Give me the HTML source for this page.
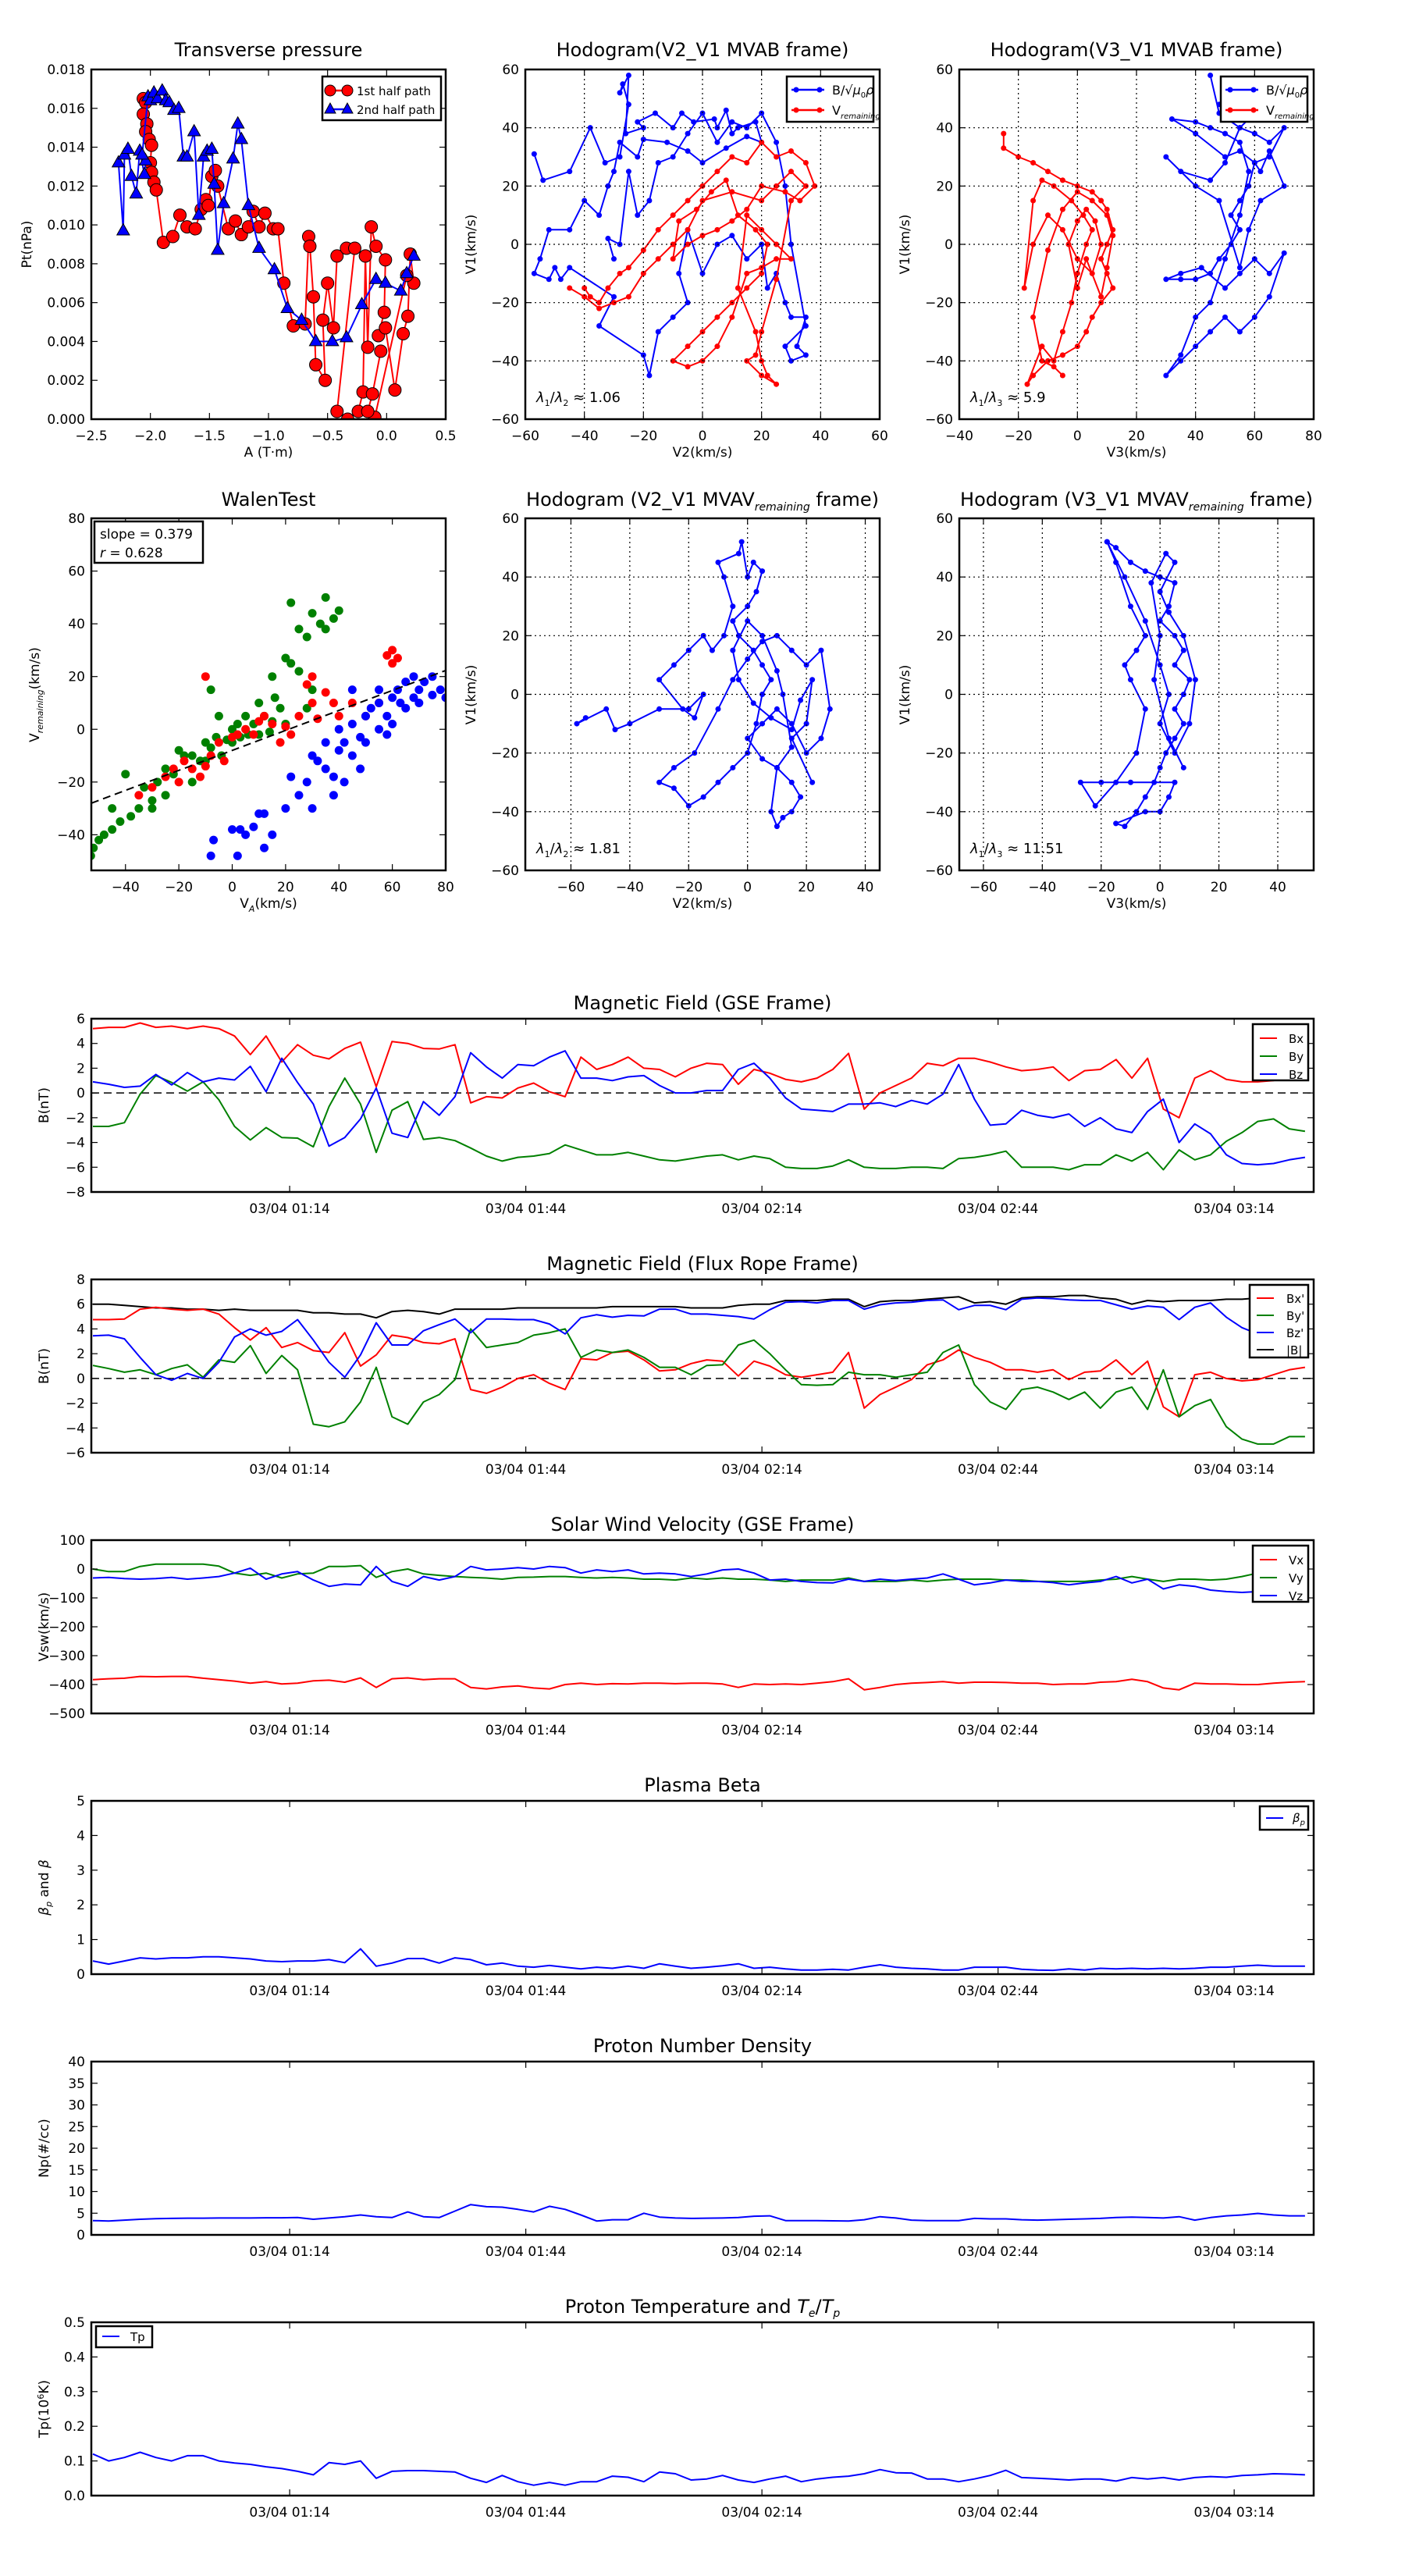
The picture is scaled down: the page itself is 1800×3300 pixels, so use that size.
<!DOCTYPE html>
<html><head><meta charset="utf-8"><title>Flux rope analysis</title>
<style>
html,body{margin:0;padding:0;background:#fff;}
svg{display:block;font-family:"DejaVu Sans","Liberation Sans",sans-serif;}
</style></head>
<body>
<svg id="fig" xmlns="http://www.w3.org/2000/svg" width="1800" height="3300" viewBox="0 0 1800 3300">
<rect x="0" y="0" width="1800" height="3300" fill="#fff"/>
</svg>
<script>
// ===================== DATA =====================
const tp1A=[-2.06,-2.04,-2.06,-2.03,-2.04,-2.01,-1.99,-2.0,-1.99,-1.97,-1.95,-1.89,-1.81,-1.75,-1.69,-1.62,-1.57,-1.53,-1.51,-1.48,-1.45,-1.43,-1.34,-1.28,-1.23,-1.17,-1.13,-1.08,-1.03,-0.96,-0.92,-0.87,-0.79,-0.69,-0.66,-0.65,-0.62,-0.60,-0.52,-0.54,-0.50,-0.45,-0.42,-0.34,-0.27,-0.42,-0.33,-0.24,-0.20,-0.18,-0.16,-0.13,-0.09,-0.01,-0.02,-0.07,-0.01,0.07,0.14,0.18,0.20,0.23,0.17,-0.10,-0.16,-0.12,-0.05];
const tp1P=[16.5,16.3,15.7,15.2,14.8,14.4,14.1,13.2,12.7,12.2,11.8,9.1,9.4,10.5,9.9,9.8,10.8,11.3,11.0,12.5,12.8,12.0,9.8,10.2,9.5,9.9,10.7,9.9,10.6,9.8,9.8,7.0,4.8,4.9,9.4,8.9,6.3,2.8,2.0,5.1,7.0,4.7,8.4,8.8,8.8,0.4,0.0,0.4,1.4,8.4,3.7,9.9,8.9,8.2,5.5,4.3,4.7,1.5,4.4,5.3,8.5,7.0,7.4,0.1,0.4,1.3,3.5];
const tp2A=[-2.27,-2.23,-2.22,-2.19,-2.16,-2.12,-2.09,-2.05,-2.04,-2.07,-2.02,-2.0,-1.97,-1.94,-1.90,-1.87,-1.84,-1.80,-1.76,-1.72,-1.69,-1.63,-1.59,-1.55,-1.52,-1.48,-1.46,-1.43,-1.38,-1.30,-1.26,-1.23,-1.17,-1.08,-0.95,-0.84,-0.72,-0.60,-0.46,-0.34,-0.21,-0.09,-0.01,0.12,0.17,0.23];
const tp2P=[13.2,9.7,13.6,13.9,12.5,11.6,13.8,12.6,13.3,13.6,16.6,16.4,16.8,16.5,16.9,16.4,16.3,15.9,16.0,13.5,13.5,14.8,10.5,13.5,13.8,13.9,12.1,8.7,11.1,13.4,15.2,14.4,11.0,8.8,7.7,5.7,5.1,4.0,4.0,4.2,5.9,7.2,7.0,6.6,7.5,8.4];

const h1BV2=[-57,-54,-45,-38,-33,-28,-25,-27,-28,-25,-26,-20,-22,-16,-10,-7,-3,4,5,8,10,12,18,20,15,8,0,-5,-12,-20,-22,-28,-30,-32,-35,-40,-45,-52,-55,-57,-52,-50,-48,-45,-30,-35,-20,-18,-15,-10,-5,-8,-5,0,5,10,15,20,22,25,28,30,35,32,35,30,28,35,30,28,25,20,15,10,5,0,-5,-10,-15,-18,-22,-25,-28,-32,-30];
const h1BV1=[31,22,25,40,28,30,48,55,52,58,38,40,42,45,40,45,42,43,40,46,38,40,42,35,37,33,28,32,35,36,30,35,25,20,10,15,5,5,-5,-10,-12,-8,-12,-8,-18,-28,-38,-45,-30,-25,-20,-10,5,-10,0,3,-5,0,-15,-10,-20,-25,-25,-35,-38,-40,-35,-28,0,20,35,45,40,42,35,45,38,30,28,15,10,25,0,2,-5];
const h1VV2=[-40,-38,-35,-32,-28,-25,-20,-15,-10,-5,0,5,10,15,20,25,30,35,38,33,28,20,15,10,5,0,-5,-10,-8,-2,3,8,12,18,22,20,15,10,5,0,-5,-10,-5,0,5,10,15,20,25,30,25,20,15,12,18,20,22,25,20,15,18,20,25,30,35,30,25,20,10,0,-5,-10,-15,-20,-25,-30,-35,-40,-45];
const h1VV1=[-15,-18,-20,-15,-10,-8,-2,5,10,15,20,25,30,28,35,30,32,28,20,15,18,20,12,8,5,3,0,-5,8,12,18,22,10,5,0,-10,-15,-20,-25,-30,-35,-40,-42,-40,-35,-25,-10,-8,-5,-5,0,5,10,-15,-30,-40,-45,-48,-45,-40,-38,-30,-12,15,20,25,20,15,18,15,5,0,-5,-10,-18,-20,-22,-18,-15];

const h2BV3=[45,48,55,60,65,70,65,60,58,55,52,55,52,48,45,40,35,30,35,42,50,55,60,65,70,65,60,55,50,45,40,35,30,35,40,45,50,55,58,55,50,45,40,32,40,50,55,60,62,65,70,62,58,55,48,40,30,35,45,50,55,60,52,48];
const h2BV1=[58,45,40,38,35,40,30,28,20,15,10,5,0,-5,-10,-12,-12,-12,-10,-8,-15,-10,-5,-10,-3,-18,-25,-30,-25,-30,-35,-40,-45,-38,-25,-20,-5,10,25,35,38,40,42,43,38,30,32,28,25,32,20,15,5,-8,15,20,30,25,22,28,40,45,50,48];
const h2VV3=[-25,-25,-20,-15,-10,-5,0,5,8,10,12,10,8,10,12,8,5,3,0,-5,-10,-15,-17,-12,-8,-5,-2,0,3,5,2,-2,-8,-12,-15,-18,-15,-10,-5,0,5,8,6,3,0,-3,0,3,8,10,12,10,5,0,-5,-10,-15,-12,-8,-5];
const h2VV1=[38,33,30,28,25,22,20,18,15,12,5,0,-5,-10,-15,-20,-25,-30,-35,-38,-40,-45,-48,-35,-40,-30,-20,-10,0,5,10,15,20,22,15,-15,0,10,5,-5,-10,0,8,12,8,0,-15,-5,-18,-8,3,10,15,18,12,-2,-25,-40,-42,-45];

const walenSlope=[0.379];
const walenIntercept=[-8];
const wGreenX=[-52,-53,-50,-48,-45,-45,-42,-40,-38,-35,-33,-30,-30,-28,-25,-25,-22,-20,-18,-15,-15,-12,-10,-10,-8,-6,-5,-4,-2,0,0,2,3,5,6,8,10,10,12,14,15,16,18,20,22,25,25,28,30,33,35,35,38,40,22,30,28,20,15,-8];
const wGreenY=[-45,-48,-42,-40,-38,-30,-35,-17,-33,-30,-22,-27,-30,-20,-25,-15,-17,-8,-10,-20,-10,-12,-5,-12,-7,-3,5,-10,-4,0,-5,2,-3,5,-2,2,10,-2,5,-1,20,12,8,27,25,38,22,35,44,40,50,38,42,45,48,15,8,2,3,15];
const wRedX=[-35,-30,-25,-22,-20,-18,-15,-12,-10,-8,-5,-3,0,2,5,8,10,12,15,18,20,22,25,28,30,32,35,38,40,45,50,55,58,60,62,60,-10,30];
const wRedY=[-25,-22,-18,-15,-20,-12,-15,-18,-14,-10,-5,-12,-3,-2,0,-2,3,5,2,-5,1,-2,5,17,10,4,14,10,5,10,5,10,28,30,27,25,20,20];
const wBlueX=[-8,-7,0,3,5,8,10,12,15,20,25,28,30,32,35,35,38,40,40,42,45,45,48,50,50,52,55,55,58,60,60,62,65,65,68,70,70,72,75,75,78,80,68,63,58,48,42,38,22,12,2,30,55,45];
const wBlueY=[-48,-42,-38,-38,-40,-37,-32,-45,-40,-30,-25,-20,-10,-12,-15,-5,-18,-8,0,-5,-10,2,-3,5,-5,8,0,10,5,12,2,15,8,18,12,15,10,18,13,20,15,12,20,10,-2,-15,-20,-25,-18,-32,-48,-30,15,15];

const h3V2=[-55,-58,-48,-45,-40,-30,-20,-15,-18,-22,-30,-25,-20,-15,-12,-8,-5,-8,-10,-3,-2,0,2,5,3,0,-5,-3,2,5,8,5,3,0,-5,-10,-15,-20,-25,-30,-25,-18,-10,-5,0,5,10,15,20,25,28,25,20,15,10,5,0,5,10,15,18,15,12,10,8,10,15,12,10,5,0,-5,-3,2,8,15,18,22,20,15,22];
const h3V1=[-8,-10,-5,-12,-10,-5,-5,0,-8,-5,5,10,15,20,15,20,30,40,45,48,52,40,45,42,35,30,25,20,15,10,5,0,-10,-20,-25,-30,-35,-38,-32,-30,-25,-20,-5,5,12,18,20,15,10,15,-5,-15,-20,-10,-5,-10,-15,-22,-25,-30,-35,-40,-42,-45,-40,-25,-18,0,8,20,25,15,5,-3,-8,-12,-2,5,-10,-15,-30];

const h4V3=[-18,-15,-10,-5,0,5,3,0,5,8,5,10,8,5,8,5,2,0,-2,-5,-8,-12,-15,-5,0,3,5,-10,-20,-27,-22,-15,-8,-5,-10,-12,-8,-5,-10,-15,-18,-12,-5,0,3,0,5,10,12,8,3,0,5,2,-3,0,-2,3,8];
const h4V1=[52,50,45,42,40,38,30,25,20,15,10,5,0,-5,-10,-15,-20,-25,-30,-35,-40,-45,-44,-40,-40,-35,-30,-30,-30,-30,-38,-30,-20,-5,5,10,15,20,30,45,52,40,25,10,0,-10,-20,-10,5,20,28,35,45,48,38,20,5,-15,-25];

const timeMin=[-25,-23,-21,-19,-17,-15,-13,-11,-9,-7,-5,-3,-1,1,3,5,7,9,11,13,15,17,19,21,23,25,27,29,31,33,35,37,39,41,43,45,47,49,51,53,55,57,59,61,63,65,67,69,71,73,75,77,79,81,83,85,87,89,91,93,95,97,99,101,103,105,107,109,111,113,115,117,119,121,123,125,127,129];
const timeTicks=[0,30,60,90,120];
const timeTickLabels=["03/04 01:14","03/04 01:44","03/04 02:14","03/04 02:44","03/04 03:14"];

const gseBx=[5.2,5.3,5.3,5.65,5.3,5.4,5.2,5.4,5.2,4.6,3.1,4.6,2.5,3.9,3.05,2.75,3.6,4.1,0.5,4.15,4.0,3.6,3.55,3.9,-0.8,-0.3,-0.4,0.4,0.8,0.1,-0.3,2.9,1.9,2.3,2.9,2.0,1.9,1.3,2.0,2.4,2.3,0.7,1.9,1.6,1.1,0.9,1.2,1.9,3.2,-1.3,0.0,0.6,1.2,2.4,2.2,2.8,2.8,2.5,2.1,1.8,1.9,2.1,1.0,1.8,1.9,2.7,1.2,2.8,-1.3,-2.0,1.2,1.8,1.1,0.9,0.9,1.0,1.5,2.1];
const gseBy=[-2.7,-2.7,-2.4,-0.1,1.4,0.85,0.15,0.9,-0.55,-2.7,-3.8,-2.8,-3.6,-3.65,-4.35,-1.1,1.2,-0.9,-4.8,-1.4,-0.7,-3.75,-3.6,-3.85,-4.45,-5.1,-5.5,-5.2,-5.1,-4.9,-4.2,-4.6,-5.0,-5.0,-4.8,-5.1,-5.4,-5.5,-5.3,-5.1,-5.0,-5.4,-5.1,-5.3,-6.0,-6.1,-6.1,-5.9,-5.4,-6.0,-6.1,-6.1,-6.0,-6.0,-6.1,-5.3,-5.2,-5.0,-4.7,-6.0,-6.0,-6.0,-6.2,-5.8,-5.8,-5.0,-5.5,-4.8,-6.2,-4.6,-5.4,-5.0,-3.9,-3.2,-2.3,-2.1,-2.9,-3.1];
const gseBz=[0.9,0.7,0.45,0.55,1.5,0.65,1.65,0.9,1.2,1.05,2.15,0.1,2.8,0.85,-0.9,-4.3,-3.6,-2.1,0.4,-3.25,-3.6,-0.7,-1.8,-0.3,3.25,2.1,1.2,2.3,2.2,2.9,3.4,1.2,1.2,1.0,1.3,1.4,0.6,0.0,0.0,0.2,0.2,1.9,2.4,1.2,-0.4,-1.3,-1.4,-1.5,-0.9,-0.9,-0.8,-1.1,-0.6,-0.9,-0.1,2.3,-0.5,-2.6,-2.5,-1.4,-1.8,-2.0,-1.7,-2.7,-2.0,-2.9,-3.2,-1.5,-0.5,-4.0,-2.5,-3.3,-5.0,-5.7,-5.8,-5.7,-5.4,-5.2];

const frBx=[4.75,4.75,4.8,5.6,5.75,5.6,5.5,5.6,5.2,4.1,3.1,4.1,2.5,2.9,2.25,2.1,3.7,1.0,1.9,3.5,3.3,2.9,2.8,3.2,-0.9,-1.2,-0.7,0.0,0.3,-0.4,-0.9,1.6,1.5,2.1,2.2,1.5,0.6,0.7,1.2,1.5,1.4,0.2,1.4,1.0,0.3,0.1,0.3,0.5,2.1,-2.4,-1.3,-0.7,-0.1,1.1,1.5,2.3,1.7,1.3,0.7,0.7,0.5,0.7,-0.1,0.5,0.6,1.5,0.3,1.4,-2.3,-3.1,0.3,0.5,0.0,-0.2,-0.1,0.3,0.7,0.9];
const frBy=[1.05,0.8,0.5,0.7,0.3,0.8,1.1,0.1,1.5,1.3,2.65,0.4,1.85,0.7,-3.7,-3.9,-3.5,-1.9,0.9,-3.1,-3.7,-1.9,-1.3,-0.1,4.0,2.5,2.7,2.9,3.5,3.7,4.0,1.7,2.3,2.1,2.3,1.7,0.9,0.9,0.3,1.05,1.1,2.7,3.1,2.0,0.7,-0.5,-0.55,-0.5,0.5,0.3,0.3,0.1,0.3,0.5,2.1,2.7,-0.5,-1.9,-2.5,-0.9,-0.7,-1.1,-1.7,-1.1,-2.4,-1.1,-0.7,-2.5,0.7,-3.1,-2.2,-1.7,-3.9,-4.9,-5.3,-5.3,-4.7,-4.7];
const frBz=[3.45,3.5,3.2,1.7,0.3,-0.15,0.4,0.0,1.3,3.35,4.0,3.5,3.8,4.75,3.1,1.3,0.1,1.9,4.5,2.7,2.7,3.85,4.35,4.8,3.7,4.8,4.8,4.75,4.75,4.4,3.6,4.9,5.15,4.95,5.1,5.05,5.6,5.6,5.2,5.2,5.1,5.0,4.8,5.55,6.15,6.2,6.1,6.3,6.3,5.6,5.95,6.1,6.15,6.3,6.35,5.55,5.9,5.9,5.55,6.4,6.5,6.45,6.35,6.3,6.3,5.95,5.6,5.85,5.75,4.75,5.75,6.1,4.95,4.1,3.6,3.85,4.35,4.55];
const frBt=[6.0,6.0,5.9,5.8,5.7,5.7,5.6,5.6,5.5,5.6,5.5,5.5,5.5,5.5,5.3,5.3,5.2,5.2,4.9,5.4,5.5,5.4,5.2,5.6,5.6,5.6,5.6,5.7,5.7,5.7,5.7,5.7,5.7,5.8,5.8,5.8,5.8,5.8,5.7,5.7,5.7,5.9,6.0,6.0,6.3,6.3,6.3,6.4,6.4,5.8,6.2,6.3,6.3,6.4,6.5,6.6,6.1,6.2,6.0,6.5,6.6,6.6,6.7,6.7,6.5,6.4,6.0,6.3,6.2,6.3,6.3,6.3,6.4,6.4,6.5,6.5,6.5,6.5];

const vswVx=[-383,-380,-378,-372,-373,-372,-372,-378,-383,-388,-395,-390,-398,-395,-387,-385,-392,-377,-410,-380,-377,-383,-380,-380,-410,-415,-408,-405,-412,-415,-400,-395,-400,-397,-398,-395,-395,-397,-395,-395,-398,-410,-398,-400,-398,-400,-395,-390,-380,-418,-410,-400,-395,-393,-390,-395,-392,-392,-393,-395,-395,-400,-398,-398,-392,-390,-382,-390,-412,-418,-395,-398,-398,-400,-400,-395,-392,-390];
const vswVy=[0,-9,-9,9,17,17,17,17,10,-14,-22,-14,-31,-17,-14,9,9,12,-29,-9,0,-17,-22,-26,-29,-31,-35,-29,-28,-26,-26,-29,-31,-29,-31,-35,-35,-38,-31,-35,-31,-35,-35,-38,-43,-38,-38,-38,-31,-43,-43,-43,-38,-43,-38,-35,-35,-35,-38,-38,-43,-43,-43,-43,-38,-35,-26,-35,-43,-35,-35,-38,-35,-26,-14,-14,-17,-31];
const vswVz=[-31,-29,-33,-35,-33,-29,-35,-31,-26,-14,3,-35,-17,-9,-38,-60,-52,-55,9,-43,-60,-26,-38,-26,9,-3,0,5,0,9,5,-14,-3,-9,-3,-17,-14,-17,-26,-17,-3,0,-14,-38,-35,-43,-47,-48,-35,-43,-35,-40,-35,-31,-17,-35,-55,-48,-38,-43,-43,-47,-55,-48,-43,-26,-48,-35,-69,-55,-60,-73,-78,-81,-78,-78,-78,-78];

const betaP=[0.38,0.29,0.38,0.47,0.44,0.47,0.47,0.5,0.5,0.47,0.44,0.38,0.36,0.38,0.38,0.42,0.33,0.73,0.23,0.32,0.45,0.45,0.32,0.47,0.42,0.27,0.32,0.23,0.2,0.25,0.2,0.15,0.2,0.17,0.23,0.17,0.3,0.23,0.17,0.2,0.24,0.3,0.17,0.2,0.15,0.12,0.12,0.14,0.12,0.2,0.27,0.2,0.17,0.15,0.12,0.12,0.2,0.2,0.2,0.14,0.12,0.11,0.15,0.12,0.17,0.15,0.17,0.15,0.17,0.15,0.17,0.2,0.2,0.23,0.26,0.23,0.23,0.23];
const densNp=[3.3,3.2,3.4,3.6,3.75,3.8,3.85,3.85,3.9,3.9,3.9,3.95,3.95,4.0,3.6,3.9,4.2,4.6,4.2,4.0,5.3,4.2,4.0,5.5,7.0,6.5,6.4,5.9,5.3,6.6,5.9,4.6,3.2,3.5,3.5,5.0,4.1,3.9,3.8,3.85,3.9,4.0,4.3,4.4,3.3,3.3,3.3,3.25,3.2,3.5,4.2,3.9,3.4,3.3,3.3,3.3,3.8,3.7,3.7,3.5,3.4,3.5,3.6,3.7,3.8,4.0,4.1,4.0,3.9,4.2,3.4,4.0,4.4,4.6,4.95,4.6,4.4,4.4];
const tempTp=[0.12,0.1,0.11,0.125,0.11,0.1,0.115,0.115,0.1,0.094,0.09,0.083,0.078,0.07,0.06,0.095,0.09,0.1,0.05,0.07,0.072,0.072,0.07,0.068,0.05,0.038,0.058,0.04,0.03,0.038,0.03,0.04,0.04,0.056,0.053,0.04,0.068,0.063,0.045,0.048,0.058,0.045,0.038,0.048,0.056,0.04,0.048,0.053,0.056,0.063,0.075,0.066,0.065,0.048,0.048,0.04,0.048,0.058,0.073,0.052,0.05,0.048,0.045,0.048,0.048,0.042,0.052,0.048,0.052,0.045,0.052,0.055,0.053,0.058,0.06,0.063,0.062,0.06];

// ===================== DRAWING =====================
const NS='http://www.w3.org/2000/svg';
const svg=document.getElementById('fig');
let clipId=0;
function mk(tag,attrs,parent){const e=document.createElementNS(NS,tag);for(const k in attrs)e.setAttribute(k,attrs[k]);(parent||svg).appendChild(e);return e;}
function fmtNum(v,d){let s=v.toFixed(d);if(s.startsWith('-')){s='\u2212'+s.slice(1);}if(/^\u2212?0(\.0+)?$/.test(s))s=s.replace('\u2212','');return s;}
function makeAx(name,x0,y0,x1,y1,xd,yd){
  const g=mk('g',{});
  
  
  const ax={g,x0,y0,x1,y1,
    x:v=>x0+(v-xd[0])/(xd[1]-xd[0])*(x1-x0),
    y:v=>y1-(v-yd[0])/(yd[1]-yd[0])*(y1-y0)};
  clipId++;
  const cp=mk('clipPath',{id:'c'+clipId},g);
  mk('rect',{x:x0,y:y0,width:x1-x0,height:y1-y0},cp);
  ax.data=mk('g',{'clip-path':'url(#c'+clipId+')'},g);
  
  
  return ax;
}
function frame(ax,xt,xl,yt,yl,grid){
  const g=ax.g;
  if(grid){
    xt.forEach(v=>{const X=ax.x(v);if(X>ax.x0+1&&X<ax.x1-1){const l=mk('line',{x1:X,x2:X,y1:ax.y0,y2:ax.y1,stroke:'#000','stroke-width':1.2,'stroke-dasharray':'2,4'},g);}});
    yt.forEach(v=>{const Y=ax.y(v);if(Y>ax.y0+1&&Y<ax.y1-1){const l=mk('line',{x1:ax.x0,x2:ax.x1,y1:Y,y2:Y,stroke:'#000','stroke-width':1.2,'stroke-dasharray':'2,4'},g);}});
  }
  const r=mk('rect',{x:ax.x0,y:ax.y0,width:ax.x1-ax.x0,height:ax.y1-ax.y0,fill:'none',stroke:'#000','stroke-width':2.5},g);
  
  
  xt.forEach((v,i)=>{const X=ax.x(v);
    mk('line',{x1:X,x2:X,y1:ax.y1,y2:ax.y1-8,stroke:'#000','stroke-width':1.2},g);
    mk('line',{x1:X,x2:X,y1:ax.y0,y2:ax.y0+8,stroke:'#000','stroke-width':1.2},g);
    const t=mk('text',{x:X,y:ax.y1+27,'text-anchor':'middle','font-size':17},g);t.textContent=xl[i];
    
    });
  yt.forEach((v,i)=>{const Y=ax.y(v);
    mk('line',{x1:ax.x0,x2:ax.x0+8,y1:Y,y2:Y,stroke:'#000','stroke-width':1.2},g);
    mk('line',{x1:ax.x1,x2:ax.x1-8,y1:Y,y2:Y,stroke:'#000','stroke-width':1.2},g);
    const t=mk('text',{x:ax.x0-8,y:Y+6,'text-anchor':'end','font-size':17},g);t.textContent=yl[i];
    
    });
}
function title(ax,html,cx,y,name){const t=mk('text',{x:cx,y:y,'text-anchor':'middle','font-size':24});t.innerHTML=html;return t;}
function label(txt,x,y,rot,name,size){const t=mk('text',{x:x,y:y,'text-anchor':'middle','font-size':size||17,transform:rot?('rotate(-90 '+x+' '+y+')'):''});t.innerHTML=txt;return t;}
function line(ax,xs,ys,color,w,name){const n=Math.min(xs.length,ys.length);let p=[];for(let i=0;i<n;i++)p.push(ax.x(xs[i]).toFixed(1)+','+ax.y(ys[i]).toFixed(1));const l=mk('polyline',{points:p.join(' '),fill:'none',stroke:color,'stroke-width':w,'stroke-linejoin':'round'},ax.data);return l;}
function dots(ax,xs,ys,color,r,name,edge){const n=Math.min(xs.length,ys.length);for(let i=0;i<n;i++){const c=mk('circle',{cx:ax.x(xs[i]),cy:ax.y(ys[i]),r:r,fill:color,stroke:edge||'none','stroke-width':1},ax.data);}}
function tris(ax,xs,ys,color,s,name){const n=Math.min(xs.length,ys.length);for(let i=0;i<n;i++){const X=ax.x(xs[i]),Y=ax.y(ys[i]);const p=mk('polygon',{points:`${X},${Y-s} ${X-s*0.9},${Y+s*0.6} ${X+s*0.9},${Y+s*0.6}`,fill:color,stroke:'#000','stroke-width':1},ax.data);}}
function range(a,b,s){const r=[];for(let v=a;v<=b+1e-9;v+=s)r.push(Math.round(v*1e6)/1e6);return r;}
function legendBox(x,y,w,h,name){const g=mk('g',{});mk('rect',{x,y,width:w,height:h,fill:'#fff',stroke:'#000','stroke-width':2.5},g);return g;}
function legLine(g,x,y,color,txt,marker){
  const big=(marker==='o'||marker==='^');
  const L=big?30:42;
  mk('line',{x1:x,x2:x+L,y1:y,y2:y,stroke:color,'stroke-width':2.5},g);
  if(marker==='o'){mk('circle',{cx:x+4,cy:y,r:7,fill:color,stroke:'#000'},g);mk('circle',{cx:x+L-4,cy:y,r:7,fill:color,stroke:'#000'},g);}
  if(marker==='^'){[x+4,x+L-4].forEach(X=>mk('polygon',{points:`${X},${y-8} ${X-7},${y+5} ${X+7},${y+5}`,fill:color,stroke:'#000'},g));}
  if(marker==='.'){mk('circle',{cx:x+6,cy:y,r:3.5,fill:color},g);mk('circle',{cx:x+36,cy:y,r:3.5,fill:color},g);}
  const t=mk('text',{x:x+L+(big?8:10),y:y+6,'font-size':big?15:16},g);t.innerHTML=txt;}

// ---------- Transverse pressure ----------
{const ax=makeAx('transverse-pressure-chart',117,89,571,537,[-2.5,0.5],[0,18]);
 line(ax,tp1A,tp1P,'#f00',2,'first-half-path-line');dots(ax,tp1A,tp1P,'#f00',8,'first-half-path-marker','#000');
 line(ax,tp2A,tp2P,'#00f',2,'second-half-path-line');tris(ax,tp2A,tp2P,'#00f',9,'second-half-path-marker');
 const xt=range(-2.5,0.5,0.5);frame(ax,xt,xt.map(v=>fmtNum(v,1)),range(0,18,2),range(0,18,2).map(v=>(v/1000).toFixed(3)),false);
 title(ax,'Transverse pressure',344,72,'transverse-pressure-title');
 label('A (T·m)',344,585,false,'x-axis-title');label('Pt(nPa)',40,313,true,'y-axis-title');
 const g=legendBox(413,98,152,56,'legend');legLine(g,419,116,'#f00','1st half path','o');legLine(g,419,140,'#00f','2nd half path','^');}

const sqrtMu='B/√<tspan font-style="italic">μ</tspan><tspan font-size="10" dy="4">0</tspan><tspan dy="-4" font-style="italic">ρ</tspan>';
const vrem='V<tspan font-size="10" dy="5" font-style="italic">remaining</tspan>';
function lam(ax,a,b,val){const t=mk('text',{x:ax.x0+14,y:ax.y1-22,'font-size':18},ax.g);t.innerHTML='<tspan font-style="italic">λ</tspan><tspan font-size="11" dy="5">'+a+'</tspan><tspan dy="-5">/</tspan><tspan font-style="italic">λ</tspan><tspan font-size="11" dy="5">'+b+'</tspan><tspan dy="-5"> ≈ '+val+'</tspan>';}

// ---------- Hodogram V2_V1 MVAB ----------
{const ax=makeAx('hodogram-v2-v1-mvab',673,89,1127,537,[-60,60],[-60,60]);
 line(ax,h1BV2,h1BV1,'#00f',2,'b-alfven-line');dots(ax,h1BV2,h1BV1,'#00f',3.5,'b-alfven-point');
 line(ax,h1VV2,h1VV1,'#f00',2,'v-remaining-line');dots(ax,h1VV2,h1VV1,'#f00',3.5,'v-remaining-point');
 const t=range(-60,60,20);frame(ax,t,t.map(v=>fmtNum(v,0)),t,t.map(v=>fmtNum(v,0)),true);
 title(ax,'Hodogram(V2_V1 MVAB frame)',900,72,'hodogram-mvab-v2-title');
 label('V2(km/s)',900,585,false,'x-axis-title');label('V1(km/s)',609,313,true,'y-axis-title');
 lam(ax,1,2,'1.06');
 const g=legendBox(1008,98,111,58,'legend');legLine(g,1014,115,'#00f',sqrtMu,'.');legLine(g,1014,141,'#f00',vrem,'.');}

// ---------- Hodogram V3_V1 MVAB ----------
{const ax=makeAx('hodogram-v3-v1-mvab',1229,89,1683,537,[-40,80],[-60,60]);
 line(ax,h2BV3,h2BV1,'#00f',2,'b-alfven-line');dots(ax,h2BV3,h2BV1,'#00f',3.5,'b-alfven-point');
 line(ax,h2VV3,h2VV1,'#f00',2,'v-remaining-line');dots(ax,h2VV3,h2VV1,'#f00',3.5,'v-remaining-point');
 frame(ax,range(-40,80,20),range(-40,80,20).map(v=>fmtNum(v,0)),range(-60,60,20),range(-60,60,20).map(v=>fmtNum(v,0)),true);
 title(ax,'Hodogram(V3_V1 MVAB frame)',1456,72,'hodogram-mvab-v3-title');
 label('V3(km/s)',1456,585,false,'x-axis-title');label('V1(km/s)',1165,313,true,'y-axis-title');
 lam(ax,1,3,'5.9');
 const g=legendBox(1564,98,111,58,'legend');legLine(g,1570,115,'#00f',sqrtMu,'.');legLine(g,1570,141,'#f00',vrem,'.');}

// ---------- Walen test ----------
{const ax=makeAx('walen-test-chart',117,664,571,1115,[-52.8,80],[-53.5,80]);
 dots(ax,wGreenX,wGreenY,'#008000',5.5,'walen-point-green');
 dots(ax,wRedX,wRedY,'#f00',5.5,'walen-point-red');
 dots(ax,wBlueX,wBlueY,'#00f',5.5,'walen-point-blue');
 const fx=[-52.8,80];const fy=fx.map(v=>walenSlope[0]*v+walenIntercept[0]);
 const l=line(ax,fx,fy,'#000',2,'fit-line');l.setAttribute('stroke-dasharray','10,6');
 const xt=range(-40,80,20),yt=range(-40,80,20);frame(ax,xt,xt.map(v=>fmtNum(v,0)),yt,yt.map(v=>fmtNum(v,0)),false);
 title(ax,'WalenTest',344,648,'walen-test-title');
 label('V<tspan font-size="11" dy="5" font-style="italic">A</tspan><tspan dy="-5">(km/s)</tspan>',344,1163,false,'x-axis-title');
 label('V<tspan font-size="11" dy="5" font-style="italic">remaining</tspan><tspan dy="-5">(km/s)</tspan>',50,890,true,'y-axis-title');
 const g=legendBox(121,668,139,53,'fit-statistics-box');
 const t1=mk('text',{x:128,y:690,'font-size':17},g);t1.textContent='slope = 0.379';
 const t2=mk('text',{x:128,y:714,'font-size':17},g);t2.innerHTML='<tspan font-style="italic">r</tspan> = 0.628';}

// ---------- Hodogram V2_V1 MVAV ----------
{const ax=makeAx('hodogram-v2-v1-mvav',673,664,1127,1115,[-75.5,44.9],[-60,60]);
 line(ax,h3V2,h3V1,'#00f',2,'hodogram-line');dots(ax,h3V2,h3V1,'#00f',3.5,'hodogram-point');
 frame(ax,range(-60,40,20),range(-60,40,20).map(v=>fmtNum(v,0)),range(-60,60,20),range(-60,60,20).map(v=>fmtNum(v,0)),true);
 title(ax,'Hodogram (V2_V1 MVAV<tspan font-size="14" dy="6" font-style="italic">remaining</tspan><tspan dy="-6"> frame)</tspan>',900,648,'hodogram-mvav-v2-title');
 label('V2(km/s)',900,1163,false,'x-axis-title');label('V1(km/s)',609,890,true,'y-axis-title');
 lam(ax,1,2,'1.81');}

// ---------- Hodogram V3_V1 MVAV ----------
{const ax=makeAx('hodogram-v3-v1-mvav',1229,664,1683,1115,[-68.2,52.2],[-60,60]);
 line(ax,h4V3,h4V1,'#00f',2,'hodogram-line');dots(ax,h4V3,h4V1,'#00f',3.5,'hodogram-point');
 frame(ax,range(-60,40,20),range(-60,40,20).map(v=>fmtNum(v,0)),range(-60,60,20),range(-60,60,20).map(v=>fmtNum(v,0)),true);
 title(ax,'Hodogram (V3_V1 MVAV<tspan font-size="14" dy="6" font-style="italic">remaining</tspan><tspan dy="-6"> frame)</tspan>',1456,648,'hodogram-mvav-v3-title');
 label('V3(km/s)',1456,1163,false,'x-axis-title');label('V1(km/s)',1165,890,true,'y-axis-title');
 lam(ax,1,3,'11.51');}

// ---------- Time series panels ----------
const T0=-25.2,T1=130.1;
function tpanel(name,top,yd,yt,yd2,ttl,ylab){
  const ax=makeAx(name,117,top,1683,top+222,[T0,T1],yd);
  ax.finish=()=>{frame(ax,timeTicks,timeTickLabels,yt,yt.map(v=>fmtNum(v,yd2)),false);
    title(ax,ttl,900,top-12,name+'-title');
    label(ylab,62,top+111,true,'y-axis-title');};
  return ax;}
function zero(ax){const l=mk('line',{x1:ax.x0,x2:ax.x1,y1:ax.y(0),y2:ax.y(0),stroke:'#000','stroke-width':1.5,'stroke-dasharray':'10,6'},ax.data);}

{const ax=tpanel('magnetic-field-gse',1305,[-8,6],range(-8,6,2),0,'Magnetic Field (GSE Frame)','B(nT)');
 zero(ax);line(ax,timeMin,gseBx,'#f00',2,'bx-line');line(ax,timeMin,gseBy,'#008000',2,'by-line');line(ax,timeMin,gseBz,'#00f',2,'bz-line');ax.finish();
 const g=legendBox(1605,1312,71,72,'legend');
 [['#f00','Bx'],['#008000','By'],['#00f','Bz']].forEach((e,i)=>{const y=1330+i*23;mk('line',{x1:1614,x2:1636,y1:y,y2:y,stroke:e[0],'stroke-width':2},g);const t=mk('text',{x:1651,y:y+6,'font-size':15},g);t.textContent=e[1];});}

{const ax=tpanel('magnetic-field-flux-rope',1639,[-6,8],range(-6,8,2),0,'Magnetic Field (Flux Rope Frame)','B(nT)');
 zero(ax);line(ax,timeMin,frBt,'#000',2,'b-total-line');line(ax,timeMin,frBx,'#f00',2,'bx-prime-line');line(ax,timeMin,frBy,'#008000',2,'by-prime-line');line(ax,timeMin,frBz,'#00f',2,'bz-prime-line');ax.finish();
 const g=legendBox(1601,1646,75,93,'legend');
 [['#f00',"Bx'"],['#008000',"By'"],['#00f',"Bz'"],['#000','|B|']].forEach((e,i)=>{const y=1663+i*22;mk('line',{x1:1610,x2:1632,y1:y,y2:y,stroke:e[0],'stroke-width':2},g);const t=mk('text',{x:1648,y:y+6,'font-size':15},g);t.textContent=e[1];});}

{const ax=tpanel('solar-wind-velocity',1973,[-500,100],range(-500,100,100),0,'Solar Wind Velocity (GSE Frame)','Vsw(km/s)');
 line(ax,timeMin,vswVx,'#f00',2,'vx-line');line(ax,timeMin,vswVy,'#008000',2,'vy-line');line(ax,timeMin,vswVz,'#00f',2,'vz-line');ax.finish();
 const g=legendBox(1605,1980,71,72,'legend');
 [['#f00','Vx'],['#008000','Vy'],['#00f','Vz']].forEach((e,i)=>{const y=1998+i*23;mk('line',{x1:1614,x2:1636,y1:y,y2:y,stroke:e[0],'stroke-width':2},g);const t=mk('text',{x:1651,y:y+6,'font-size':15},g);t.textContent=e[1];});}

{const ax=tpanel('plasma-beta',2307,[0,5],range(0,5,1),0,'Plasma Beta','<tspan font-style="italic">β</tspan><tspan font-size="11" dy="4" font-style="italic">p</tspan><tspan dy="-4"> and </tspan><tspan font-style="italic">β</tspan>');
 line(ax,timeMin,betaP,'#00f',2,'beta-p-line');ax.finish();
 const g=legendBox(1614,2314,62,30,'legend');mk('line',{x1:1622,x2:1644,y1:2329,y2:2329,stroke:'#00f','stroke-width':2},g);
 const t=mk('text',{x:1656,y:2334,'font-size':15,'font-style':'italic'},g);t.innerHTML='β<tspan font-size="10" dy="4">p</tspan>';}

{const ax=tpanel('proton-number-density',2641,[0,40],range(0,40,5),0,'Proton Number Density','Np(#/cc)');
 line(ax,timeMin,densNp,'#00f',2,'np-line');ax.finish();}

{const ax=tpanel('proton-temperature',2975,[0,0.5],range(0,0.5,0.1),1,'Proton Temperature and <tspan font-style="italic">T</tspan><tspan font-size="14" dy="5" font-style="italic">e</tspan><tspan dy="-5">/</tspan><tspan font-style="italic">T</tspan><tspan font-size="14" dy="5" font-style="italic">p</tspan>','Tp(10<tspan font-size="11" dy="-6">6</tspan><tspan dy="6">K)</tspan>');
 line(ax,timeMin,tempTp,'#00f',2,'tp-line');ax.finish();
 const g=legendBox(123,2980,72,27,'legend');mk('line',{x1:131,x2:153,y1:2993,y2:2993,stroke:'#00f','stroke-width':2},g);
 const t=mk('text',{x:167,y:2999,'font-size':15},g);t.textContent='Tp';}
</script>
</body></html>
